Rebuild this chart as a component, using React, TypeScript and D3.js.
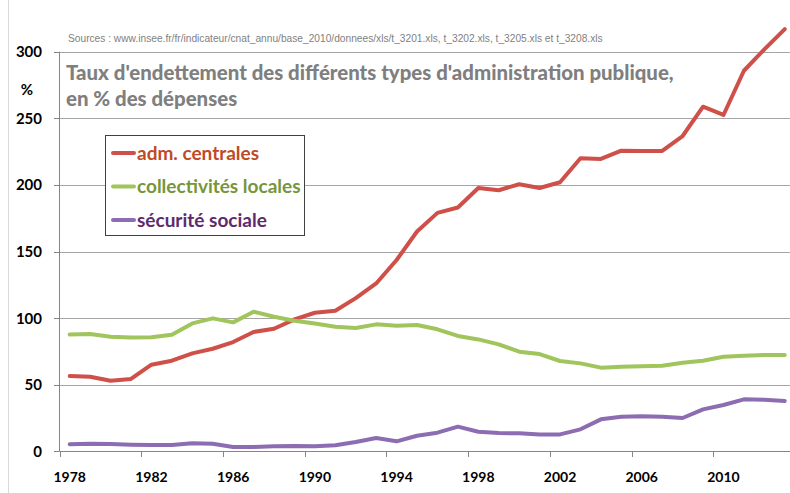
import * as d3 from "d3";

const years = d3.range(1978, 2014);

const admCentrales = [
  56.5, 56, 53, 54.3, 65, 68, 73.5, 77, 82, 89.6, 92, 99, 104, 105.5, 115, 126,
  143.6, 165, 179, 183, 197.7, 196, 200.5, 197.7, 202, 220, 219.5, 225.7, 225.5,
  225.5, 236.7, 258.7, 252.5, 285.7, 301.8, 317,
];
const collectivites = [
  87.6, 88, 86, 85.4, 85.6, 87.5, 96, 99.8, 96.8, 104.8, 101, 98, 96, 93.5, 92.5,
  95.3, 94.2, 94.8, 91.6, 86.6, 84, 80.3, 74.8, 73, 67.8, 66, 62.8, 63.5, 63.8,
  64.3, 66.5, 68, 71, 71.8, 72.3, 72.3,
];
const securite = [
  5.3, 5.6, 5.5, 5, 4.7, 4.7, 6, 5.6, 3.3, 3.3, 3.8, 4, 3.8, 4.5, 7, 10, 7.5,
  11.7, 14, 18.5, 14.7, 13.7, 13.5, 12.7, 12.7, 16.5, 24, 26, 26.3, 26, 25,
  31.5, 34.8, 39, 38.7, 37.8,
];

const yTicks = [0, 50, 100, 150, 200, 250, 300];
const xLabelYears = years.filter((y) => (y - 1978) % 4 === 0);

const series = [
  { label: "adm. centrales", values: admCentrales, color: "#CF5049", text: "#BF4A26" },
  { label: "collectivités locales", values: collectivites, color: "#A0C55C", text: "#76963A" },
  { label: "sécurité sociale", values: securite, color: "#8C6DB1", text: "#5E2A6C" },
];

const W = 790;
const H = 493;

export default function App() {
  const x = d3
    .scaleBand<number>()
    .domain(years)
    .range([59.5, 59.5 + 36 * 20.43])
    .padding(0);
  const y = d3.scaleLinear().domain([0, 300]).range([451.3, 51.7]);
  const cx = (yr: number) => (x(yr) || 0) + x.bandwidth() / 2;

  const line = d3
    .line<number>()
    .x((_, i) => cx(years[i]))
    .y((d) => y(d));

  const font = "Lato, 'Open Sans', sans-serif";

  return (
    <svg
      width={W}
      height={H}
      style={{ position: "absolute", left: 0, top: 0, background: "#fff" }}
    >
      <line x1={8.5} x2={8.5} y1={0} y2={H} stroke="#d9d9d9" />

      {/* grid */}
      {yTicks.slice(1).map((t) => (
        <line
          key={t}
          x1={59.5}
          x2={W}
          y1={Math.round(y(t)) + 0.5}
          y2={Math.round(y(t)) + 0.5}
          stroke="#a6a6a6"
        />
      ))}

      {/* y axis */}
      <line x1={59.5} x2={59.5} y1={y(300)} y2={y(0)} stroke="#868686" />
      {yTicks.map((t) => (
        <g key={t}>
          <line
            x1={54}
            x2={59.5}
            y1={Math.round(y(t)) + 0.5}
            y2={Math.round(y(t)) + 0.5}
            stroke="#868686"
          />
          <text
            x={42}
            y={y(t)}
            dy="0.36em"
            textAnchor="end"
            fontFamily={font}
            fontWeight="bold"
            fontSize={15}
            fill="#000"
          >
            {t}
          </text>
        </g>
      ))}
      <text
        x={27}
        y={90}
        dy="0.36em"
        textAnchor="middle"
        fontFamily={font}
        fontWeight="bold"
        fontSize={15}
      >
        %
      </text>

      {/* x axis */}
      <line x1={59.5} x2={W} y1={451.5} y2={451.5} stroke="#868686" />
      {xLabelYears.map((yr) => (
        <g key={yr}>
          <line
            x1={Math.round(x(yr) || 0) + 0.5}
            x2={Math.round(x(yr) || 0) + 0.5}
            y1={451.5}
            y2={457}
            stroke="#868686"
          />
          <text
            x={cx(yr)}
            y={482}
            textAnchor="middle"
            fontFamily={font}
            fontWeight="bold"
            fontSize={14}
          >
            {yr}
          </text>
        </g>
      ))}

      {/* lines */}
      {series.map((s) => (
        <path
          key={s.label}
          d={line(s.values) || ""}
          fill="none"
          stroke={s.color}
          strokeWidth={4}
          strokeLinejoin="round"
          strokeLinecap="round"
        />
      ))}

      {/* sources & title */}
      <text
        x={68}
        y={42}
        fontFamily="'Liberation Sans', Arial, sans-serif"
        fontSize={10.2}
        fill="#7f7f7f"
      >
        Sources : www.insee.fr/fr/indicateur/cnat_annu/base_2010/donnees/xls/t_3201.xls, t_3202.xls, t_3205.xls et t_3208.xls
      </text>
      <text x={66} y={80} fontFamily={font} fontWeight="900" fontSize={20.4} fill="#7f7f7f">
        Taux d'endettement des différents types d'administration publique,
      </text>
      <text x={66} y={106} fontFamily={font} fontWeight="900" fontSize={20.4} fill="#7f7f7f">
        en % des dépenses
      </text>

      {/* legend */}
      <rect x={105.5} y={135.5} width={199} height={100} fill="#fff" stroke="#404040" />
      {series.map((s, i) => (
        <g key={s.label} transform={`translate(0, ${153 + i * 33.5})`}>
          <line x1={113} x2={134} y1={0} y2={0} stroke={s.color} strokeWidth={4} strokeLinecap="round" />
          <text
            x={137}
            y={0}
            dy="0.36em"
            fontFamily={font}
            fontWeight="bold"
            fontSize={19}
            fill={s.text}
          >
            {s.label}
          </text>
        </g>
      ))}
    </svg>
  );
}
